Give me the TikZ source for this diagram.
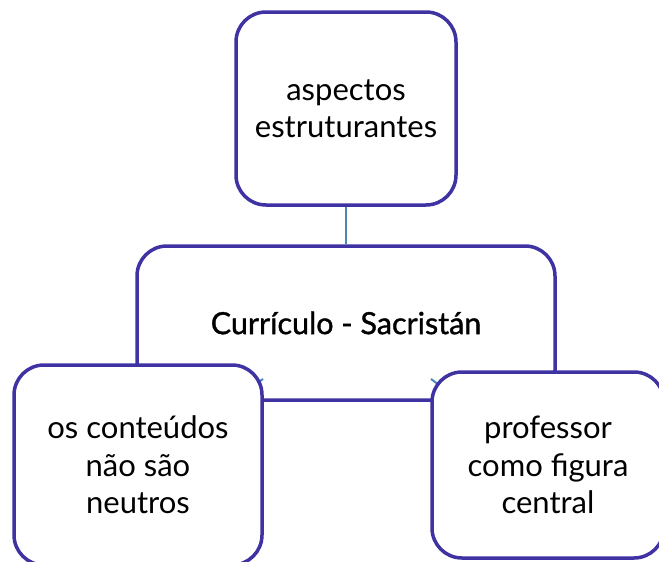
\documentclass[tikz,border=0pt]{standalone}
\usepackage{fontspec}
\setmainfont{Lato}
\newfontfamily\midfont[FakeBold=1.2]{Lato}
\definecolor{boxline}{HTML}{3F32A2}
\definecolor{conn}{HTML}{4A86B8}
\begin{document}
\begin{tikzpicture}[x=1pt,y=-1pt,
  box/.style={draw=boxline,line width=3.5pt,fill=white,rounded corners=30pt,inner sep=0pt,align=center,font=\fontsize{31}{37.5}\selectfont},
  link/.style={draw=conn,line width=2pt}]
\useasboundingbox (0,0) rectangle (659,562);
\begin{scope}
\clip (0,0) rectangle (659,562);
\node[box,minimum width=418pt,minimum height=154pt,font=\midfont\fontsize{30.5}{36}\selectfont] (mid) at (346,323) {Currículo - Sacristán};
\node[box,minimum width=220pt,minimum height=193pt] (top) at (346,108.5) {aspectos\\estruturantes};
\draw[link] (top.south) -- (mid.north);
\coordinate (tl) at (263,379);
\coordinate (tr) at (431,379);
\draw[link] (138,463) -- (tl);
\draw[link] (548,465) -- (tr);
\node[box,minimum width=248pt,minimum height=200pt] (bl) at (138,465) {os conteúdos\\não são\\neutros};
\node[box,minimum width=232pt,minimum height=186pt] (br) at (548,465) {professor\\como figura\\central};
\end{scope}
\end{tikzpicture}
\end{document}
